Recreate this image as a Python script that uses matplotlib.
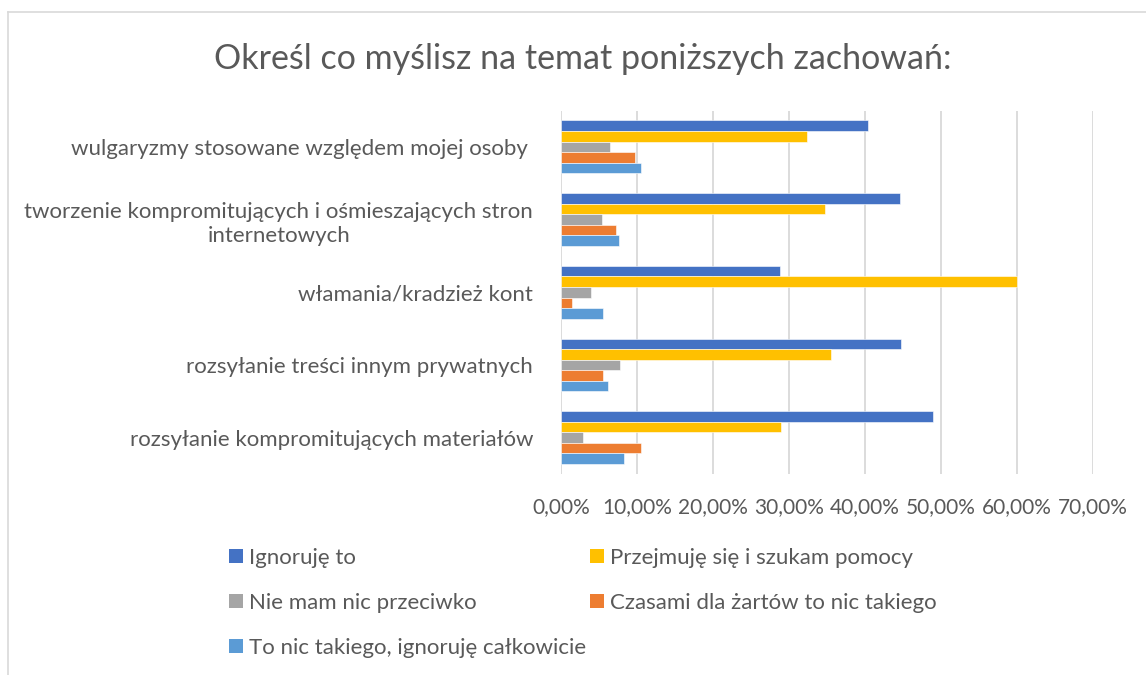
import numpy as np
import matplotlib
matplotlib.use("Agg")
import matplotlib.pyplot as plt
from matplotlib.patches import Patch
from matplotlib.lines import Line2D
from matplotlib.ticker import FuncFormatter, MultipleLocator

plt.rcParams['font.family'] = ['Lato', 'DejaVu Sans']

# dane (udzial odpowiedzi)
kategorie = [
    "wulgaryzmy stosowane względem mojej osoby ",
    "tworzenie kompromitujących i ośmieszających stron\ninternetowych",
    "włamania/kradzież kont",
    "rozsyłanie treści innym prywatnych",
    "rozsyłanie kompromitujących materiałów",
]
serie = [
    "Ignoruję to",
    "Przejmuję się i szukam pomocy",
    "Nie mam nic przeciwko",
    "Czasami dla żartów to nic takiego",
    "To nic takiego, ignoruję całkowicie",
]
ignoruje = [0.404, 0.446, 0.288, 0.447, 0.490]
przejmuje = [0.324, 0.348, 0.600, 0.355, 0.289]
nie_mam = [0.065, 0.054, 0.040, 0.077, 0.029]
czasami = [0.098, 0.072, 0.015, 0.055, 0.105]
to_nic = [0.105, 0.076, 0.055, 0.062, 0.083]

kolory = ['#4472C4', '#FFC000', '#A5A5A5', '#ED7D31', '#5B9BD5']
tekst = '#595959'
siatka = '#D9D9D9'

W, H = 1146, 675
fig = plt.figure(figsize=(W / 100, H / 100), dpi=100)
ax = fig.add_axes([561 / W, 1 - 474 / H, (1093 - 561) / W, (474 - 110.5) / H])

wartosci = [ignoruje, przejmuje, nie_mam, czasami, to_nic]
y = np.arange(len(kategorie))
h = 0.145
for i, (vals, kol, nazwa) in enumerate(zip(wartosci, kolory, serie)):
    ax.barh(y + (i - 2) * h, vals, height=h, color=kol, label=nazwa,
            edgecolor='white', linewidth=0.4)

ax.set_xlim(0, 0.7)
ax.set_ylim(len(kategorie) - 0.5, -0.5)
ax.xaxis.set_major_locator(MultipleLocator(0.1))
ax.xaxis.set_major_formatter(FuncFormatter(lambda v, p: f"{v * 100:.2f}%".replace('.', ',')))
ax.grid(axis='x', color=siatka, linewidth=1.3)
ax.set_axisbelow(True)
for s in ax.spines.values():
    s.set_visible(False)
ax.tick_params(axis='both', length=0, colors=tekst)
ax.tick_params(axis='x', pad=16.5, labelsize=15)
ax.tick_params(axis='y', pad=20, labelsize=16)
ax.set_yticks(y)
ax.set_yticklabels(kategorie, multialignment='center', linespacing=1.3)

fig.text(583 / W, 1 - 59 / H, "Określ co myślisz na temat poniższych zachowań:",
         ha='center', va='center', fontsize=24.5, color=tekst)

# legenda w dwoch kolumnach
uchwyty = [Patch(facecolor=k) for k in kolory]
kol1 = [0, 2, 4]
kol2 = [1, 3]
for idx, x0 in ((kol1, 229), (kol2, 590)):
    leg = fig.legend([uchwyty[j] for j in idx], [serie[j] for j in idx],
                     loc='upper left', bbox_to_anchor=(x0 / W, 1 - 548 / H),
                     frameon=False, fontsize=16, handlelength=0.63, handleheight=0.63,
                     handletextpad=0.27, labelspacing=1.12, borderaxespad=0, borderpad=0)
    for t in leg.get_texts():
        t.set_color(tekst)

# ramka wykresu
fig.add_artist(Line2D([7.5 / W, 7.5 / W], [0, 1 - 11.5 / H], color=siatka, lw=1.2,
                      transform=fig.transFigure))
fig.add_artist(Line2D([7.5 / W, 1], [1 - 11.5 / H, 1 - 11.5 / H], color=siatka, lw=1.2,
                      transform=fig.transFigure))

fig.savefig("out.png", dpi=100)
